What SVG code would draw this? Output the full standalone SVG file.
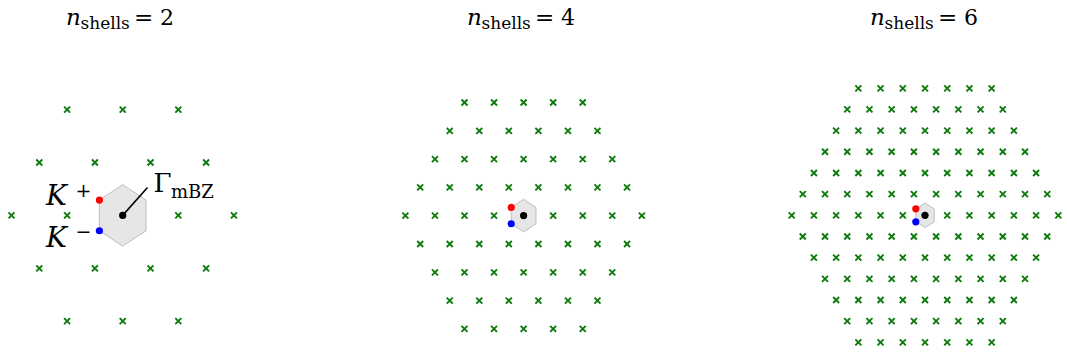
<svg xmlns="http://www.w3.org/2000/svg" xmlns:xlink="http://www.w3.org/1999/xlink" width="1067" height="356" viewBox="0 0 1067 356">
<style>
.x{fill:none;stroke:#0d7a0d;stroke-width:1.9}
.hex{fill:#e6e6e6;stroke:#bdbdbd;stroke-width:1}
.kp{fill:#ff0000}
.km{fill:#0000ff}
.g{fill:#000}
.t{font-family:"DejaVu Serif",serif;fill:#000}
.it{font-style:italic}
.lead{stroke:#000;stroke-width:1.6;fill:none}
</style>
<defs>
<path id="x" class="x" d="M-3,-3L3,3M-3,3L3,-3"/>
<!-- panel 2 rows -->
<g id="a5"><use href="#x" x="464.5"/><use href="#x" x="494.05"/><use href="#x" x="523.6"/><use href="#x" x="553.15"/><use href="#x" x="582.7"/></g>
<g id="a6"><use href="#x" x="449.73"/><use href="#x" x="479.28"/><use href="#x" x="508.83"/><use href="#x" x="538.38"/><use href="#x" x="567.93"/><use href="#x" x="597.48"/></g>
<g id="a7"><use href="#x" x="434.95"/><use href="#x" x="464.5"/><use href="#x" x="494.05"/><use href="#x" x="523.6"/><use href="#x" x="553.15"/><use href="#x" x="582.7"/><use href="#x" x="612.25"/></g>
<g id="a8"><use href="#x" x="420.18"/><use href="#x" x="449.73"/><use href="#x" x="479.28"/><use href="#x" x="508.83"/><use href="#x" x="538.38"/><use href="#x" x="567.93"/><use href="#x" x="597.48"/><use href="#x" x="627.03"/></g>
<g id="a9"><use href="#x" x="405.4"/><use href="#x" x="434.95"/><use href="#x" x="464.5"/><use href="#x" x="494.05"/><use href="#x" x="553.15"/><use href="#x" x="582.7"/><use href="#x" x="612.25"/><use href="#x" x="641.8"/></g>
<!-- panel 3 rows -->
<g id="b7"><use href="#x" x="858.34"/><use href="#x" x="880.56"/><use href="#x" x="902.78"/><use href="#x" x="925"/><use href="#x" x="947.22"/><use href="#x" x="969.44"/><use href="#x" x="991.66"/></g>
<g id="b8"><use href="#x" x="847.23"/><use href="#x" x="869.45"/><use href="#x" x="891.67"/><use href="#x" x="913.89"/><use href="#x" x="936.11"/><use href="#x" x="958.33"/><use href="#x" x="980.55"/><use href="#x" x="1002.77"/></g>
<g id="b9"><use href="#x" x="836.12"/><use href="#x" x="858.34"/><use href="#x" x="880.56"/><use href="#x" x="902.78"/><use href="#x" x="925"/><use href="#x" x="947.22"/><use href="#x" x="969.44"/><use href="#x" x="991.66"/><use href="#x" x="1013.88"/></g>
<g id="b10"><use href="#x" x="825.01"/><use href="#x" x="847.23"/><use href="#x" x="869.45"/><use href="#x" x="891.67"/><use href="#x" x="913.89"/><use href="#x" x="936.11"/><use href="#x" x="958.33"/><use href="#x" x="980.55"/><use href="#x" x="1002.77"/><use href="#x" x="1024.99"/></g>
<g id="b11"><use href="#x" x="813.9"/><use href="#x" x="836.12"/><use href="#x" x="858.34"/><use href="#x" x="880.56"/><use href="#x" x="902.78"/><use href="#x" x="925"/><use href="#x" x="947.22"/><use href="#x" x="969.44"/><use href="#x" x="991.66"/><use href="#x" x="1013.88"/><use href="#x" x="1036.1"/></g>
<g id="b12"><use href="#x" x="802.79"/><use href="#x" x="825.01"/><use href="#x" x="847.23"/><use href="#x" x="869.45"/><use href="#x" x="891.67"/><use href="#x" x="913.89"/><use href="#x" x="936.11"/><use href="#x" x="958.33"/><use href="#x" x="980.55"/><use href="#x" x="1002.77"/><use href="#x" x="1024.99"/><use href="#x" x="1047.21"/></g>
<g id="b13"><use href="#x" x="791.68"/><use href="#x" x="813.9"/><use href="#x" x="836.12"/><use href="#x" x="858.34"/><use href="#x" x="880.56"/><use href="#x" x="902.78"/><use href="#x" x="947.22"/><use href="#x" x="969.44"/><use href="#x" x="991.66"/><use href="#x" x="1013.88"/><use href="#x" x="1036.1"/><use href="#x" x="1058.32"/></g>
</defs>
<rect width="1067" height="356" fill="#fff"/>

<!-- Panel 1: n_shells = 2 -->
<g id="panel1">
<text class="t" y="24.5"><tspan class="it" x="66" font-size="23">n</tspan><tspan x="80.5" y="28.5" font-size="17">shells</tspan><tspan x="134" y="24.5" font-size="23">=</tspan><tspan x="160" font-size="22">2</tspan></text>
<g id="lattice1">
<use href="#x" x="67.1" y="109.6"/><use href="#x" x="122.7" y="109.6"/><use href="#x" x="178.3" y="109.6"/>
<use href="#x" x="39.3" y="162.5"/><use href="#x" x="94.9" y="162.5"/><use href="#x" x="150.5" y="162.5"/><use href="#x" x="206.1" y="162.5"/>
<use href="#x" x="11.5" y="215.4"/><use href="#x" x="67.1" y="215.4"/><use href="#x" x="178.3" y="215.4"/><use href="#x" x="233.9" y="215.4"/>
<use href="#x" x="39.3" y="268.3"/><use href="#x" x="94.9" y="268.3"/><use href="#x" x="150.5" y="268.3"/><use href="#x" x="206.1" y="268.3"/>
<use href="#x" x="67.1" y="321.2"/><use href="#x" x="122.7" y="321.2"/><use href="#x" x="178.3" y="321.2"/>
</g>
<polygon id="mbz1" class="hex" points="122.7,184.7 146,200.05 146,230.75 122.7,246.1 99.4,230.75 99.4,200.05"/>
<line class="lead" x1="122.7" y1="215.4" x2="147.5" y2="187.5"/>
<circle id="kplus1" class="kp" cx="99.4" cy="200.05" r="3.6"/>
<circle id="kminus1" class="km" cx="99.4" cy="230.75" r="3.6"/>
<circle id="gamma1" class="g" cx="122.7" cy="215.4" r="3.6"/>
<text class="t" y="205"><tspan class="it" x="46" font-size="28">K</tspan><tspan x="75.5" y="197" font-size="19">+</tspan></text>
<text class="t" y="246.7"><tspan class="it" x="46" font-size="28">K</tspan><tspan x="75.5" y="238" font-size="19">−</tspan></text>
<text class="t" y="191.7"><tspan x="153.5" font-size="26">Γ</tspan><tspan x="171" y="198.3" font-size="18">mBZ</tspan></text>
</g>

<!-- Panel 2: n_shells = 4 -->
<g id="panel2">
<text class="t" y="24.5"><tspan class="it" x="467" font-size="23">n</tspan><tspan x="481.5" y="28.5" font-size="17">shells</tspan><tspan x="535" y="24.5" font-size="23">=</tspan><tspan x="561" font-size="22">4</tspan></text>
<g id="lattice2">
<use href="#a5" y="102.5"/>
<use href="#a6" y="130.8"/>
<use href="#a7" y="159.1"/>
<use href="#a8" y="187.4"/>
<use href="#a9" y="215.7"/>
<use href="#a8" y="244"/>
<use href="#a7" y="272.3"/>
<use href="#a6" y="300.6"/>
<use href="#a5" y="328.9"/>
</g>
<polygon id="mbz2" class="hex" points="523.6,199.3 536,207.45 536,223.75 523.6,231.9 511.2,223.75 511.2,207.45"/>
<circle id="kplus2" class="kp" cx="511.2" cy="207.45" r="3.6"/>
<circle id="kminus2" class="km" cx="511.2" cy="223.75" r="3.6"/>
<circle id="gamma2" class="g" cx="523.6" cy="215.6" r="3.6"/>
</g>

<!-- Panel 3: n_shells = 6 -->
<g id="panel3">
<text class="t" y="24.5"><tspan class="it" x="870" font-size="23">n</tspan><tspan x="884.5" y="28.5" font-size="17">shells</tspan><tspan x="938" y="24.5" font-size="23">=</tspan><tspan x="964" font-size="22">6</tspan></text>
<g id="lattice3">
<use href="#b7" y="88.3"/>
<use href="#b8" y="109.45"/>
<use href="#b9" y="130.62"/>
<use href="#b10" y="151.79"/>
<use href="#b11" y="172.96"/>
<use href="#b12" y="194.13"/>
<use href="#b13" y="215.3"/>
<use href="#b12" y="236.47"/>
<use href="#b11" y="257.64"/>
<use href="#b10" y="278.81"/>
<use href="#b9" y="299.98"/>
<use href="#b8" y="321.15"/>
<use href="#b7" y="342.32"/>
</g>
<polygon id="mbz3" class="hex" points="925,203.1 934.2,208.8 934.2,221.8 925,227.5 915.8,221.8 915.8,208.8"/>
<circle id="kplus3" class="kp" cx="915.8" cy="208.8" r="3.6"/>
<circle id="kminus3" class="km" cx="915.8" cy="221.8" r="3.6"/>
<circle id="gamma3" class="g" cx="925" cy="215.3" r="3.6"/>
</g>
</svg>
